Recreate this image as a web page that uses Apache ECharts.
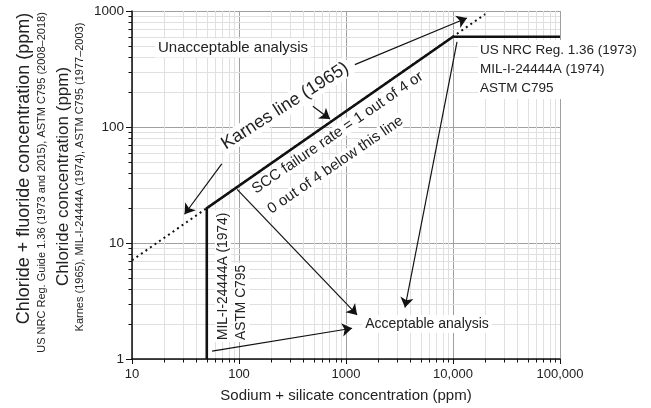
<!DOCTYPE html>
<html>
<head>
<meta charset="utf-8">
<script src="https://cdn.jsdelivr.net/npm/echarts@6/dist/echarts.min.js"></script>
<style>
  html, body { margin: 0; padding: 0; background: #fff; }
  #chart { width: 651px; height: 408px; }
</style>
</head>
<body>
<div id="chart"></div>
<script>
// Decade ticks of the log–log axes (ppm)
const xTickValues = [10, 100, 1000, 10000, 100000];
const xTickLabels = ['10', '100', '1000', '10,000', '100,000'];
const yTickValues = [1, 10, 100, 1000];
const yTickLabels = ['1', '10', '100', '1000'];

// Minor (2..9 per decade) grid positions
const xMinorTicks = [
  20, 30, 40, 50, 60, 70, 80, 90,
  200, 300, 400, 500, 600, 700, 800, 900,
  2000, 3000, 4000, 5000, 6000, 7000, 8000, 9000,
  20000, 30000, 40000, 50000, 60000, 70000, 80000, 90000
];
const yMinorTicks = [
  2, 3, 4, 5, 6, 7, 8, 9,
  20, 30, 40, 50, 60, 70, 80, 90,
  200, 300, 400, 500, 600, 700, 800, 900
];

// Karnes line (1965): [sodium + silicate, chloride] in ppm
const karnesLine = [[10, 7.1], [20000, 940]];
// Specification limit (MIL-I-24444A, ASTM C795, US NRC Reg. Guide 1.36)
const specLimit = [[50, 1], [50, 20], [10000, 600], [100000, 600]];

// Callout arrows, each [from, to] in data units
const callouts = [
  [[69, 48], [31, 17.7]],
  [[1210, 345], [13500, 870]],
  [[490, 151], [708, 117]],
  [[96, 29], [1270, 2.4]],
  [[56, 1.17], [1140, 1.84]],
  [[10900, 543], [3560, 2.78]]
];

// Texts
const xTitle = 'Sodium + silicate concentration (ppm)';
const yTitles = [
  'Chloride + fluoride concentration (ppm)',
  'US NRC Reg. Guide 1.36 (1973 and 2015), ASTM C795 (2008\u20132018)',
  'Chloride concentration (ppm)',
  'Karnes (1965), MIL-I-24444A (1974), ASTM C795 (1977\u20132003)'
];
const regionLabels = ['Unacceptable analysis', 'Acceptable analysis'];
const karnesLabel = 'Karnes line (1965)';
const sccLabel = ['SCC failure rate = 1 out of 4 or', '0 out of 4 below this line'];
const limitLabel = ['US NRC Reg. 1.36 (1973)', 'MIL-I-24444A (1974)', 'ASTM C795'];
const verticalLabels = ['MIL-I-24444A (1974)', 'ASTM C795'];

const FONT = '"Liberation Sans", Arial, Helvetica, sans-serif';
const INK = '#222';
const deg = d => d * Math.PI / 180;

function tickLabel(values, labels) {
  return function (v) {
    for (let i = 0; i < values.length; i++) {
      if (Math.abs(v - values[i]) / values[i] < 1e-6) return labels[i];
    }
    return '';
  };
}

function crisp(v) { return Math.round(v) + 0.5; }

// Vertical minor grid lines plus small ticks under the x axis
function renderMinorX(params, api) {
  const cs = params.coordSys;
  const px = crisp(api.coord([api.value(0), api.value(1)])[0]);
  const bottom = cs.y + cs.height;
  return {
    type: 'group',
    children: [
      { type: 'line', shape: { x1: px, y1: cs.y, x2: px, y2: bottom },
        style: { stroke: '#e0e0e0', lineWidth: 1 } },
      { type: 'line', shape: { x1: px, y1: bottom, x2: px, y2: bottom + 3.5 },
        style: { stroke: '#111', lineWidth: 1 } }
    ]
  };
}

// Horizontal minor grid lines plus small ticks left of the y axis
function renderMinorY(params, api) {
  const cs = params.coordSys;
  const py = crisp(api.coord([api.value(0), api.value(1)])[1]);
  return {
    type: 'group',
    children: [
      { type: 'line', shape: { x1: cs.x, y1: py, x2: cs.x + cs.width, y2: py },
        style: { stroke: '#e0e0e0', lineWidth: 1 } },
      { type: 'line', shape: { x1: cs.x - 3.5, y1: py, x2: cs.x, y2: py },
        style: { stroke: '#111', lineWidth: 1 } }
    ]
  };
}

function note(text, x, y, opts) {
  opts = opts || {};
  return {
    type: 'text',
    x: x, y: y,
    rotation: opts.rotation || 0,
    z: 1,
    silent: true,
    style: {
      text: text,
      fill: INK,
      font: (opts.size || 14) + 'px ' + FONT,
      align: opts.align || 'center',
      verticalAlign: 'middle',
      lineHeight: opts.lineHeight,
      backgroundColor: opts.bg === false ? 'transparent' : '#fff',
      padding: opts.padding || [1, 2]
    }
  };
}

const chart = echarts.init(document.getElementById('chart'), null, { renderer: 'canvas' });

chart.setOption({
  animation: false,
  backgroundColor: '#fff',
  grid: { left: 132, right: 91, top: 11, bottom: 46 },
  xAxis: {
    type: 'log',
    logBase: 10,
    min: 10,
    max: 100000,
    name: xTitle,
    nameLocation: 'middle',
    nameGap: 29,
    nameTextStyle: { fontFamily: FONT, fontSize: 15, color: INK },
    axisLine: { show: true, lineStyle: { color: '#111', width: 1.5 } },
    axisTick: { show: true, inside: false, length: 5, lineStyle: { color: '#111', width: 1 } },
    axisLabel: {
      margin: 9, fontFamily: FONT, fontSize: 13, color: INK,
      formatter: tickLabel(xTickValues, xTickLabels)
    },
    splitLine: { show: true, lineStyle: { color: '#a0a0a0', width: 1 } }
  },
  yAxis: {
    type: 'log',
    logBase: 10,
    min: 1,
    max: 1000,
    axisLine: { show: true, lineStyle: { color: '#111', width: 1.5 } },
    axisTick: { show: true, inside: false, length: 6, lineStyle: { color: '#111', width: 1 } },
    axisLabel: {
      margin: 8, fontFamily: FONT, fontSize: 13.5, color: INK,
      formatter: tickLabel(yTickValues, yTickLabels)
    },
    splitLine: { show: true, lineStyle: { color: '#a0a0a0', width: 1 } }
  },
  graphic: [
    // Stacked y-axis titles
    note(yTitles[0], 24, 168.5, { size: 18, rotation: Math.PI / 2, bg: false }),
    note(yTitles[1], 42, 182.5, { size: 11, rotation: Math.PI / 2, bg: false }),
    note(yTitles[2], 63, 176.5, { size: 17, rotation: Math.PI / 2, bg: false }),
    note(yTitles[3], 80, 177, { size: 11, rotation: Math.PI / 2, bg: false }),
    // In-plot annotations
    note(regionLabels[0], 233, 48, { size: 15, padding: [2, 3] }),
    note(regionLabels[1], 427, 324, { size: 14, padding: [2, 3] }),
    note(karnesLabel, 285, 106, { size: 18, rotation: deg(32.5), padding: [1, 3] }),
    note(sccLabel[0], 252, 191.6, { size: 15, rotation: deg(34.5), align: 'left', padding: [0, 2] }),
    note(sccLabel[1], 267.6, 211.6, { size: 15, rotation: deg(34.5), align: 'left', padding: [0, 2] }),
    note(limitLabel.join('\n'), 478, 69.5, { size: 13.5, align: 'left', lineHeight: 19, padding: [1, 2] }),
    note(verticalLabels[0], 223, 342, { size: 13.8, rotation: Math.PI / 2, align: 'left', padding: [1, 2] }),
    note(verticalLabels[1], 241.5, 342, { size: 13.8, rotation: Math.PI / 2, align: 'left', padding: [1, 2] })
  ],
  series: [
    {
      type: 'custom',
      name: 'minor-x',
      coordinateSystem: 'cartesian2d',
      renderItem: renderMinorX,
      data: xMinorTicks.map(v => [v, 1]),
      silent: true,
      z: 0
    },
    {
      type: 'custom',
      name: 'minor-y',
      coordinateSystem: 'cartesian2d',
      renderItem: renderMinorY,
      data: yMinorTicks.map(v => [10, v]),
      silent: true,
      z: 0
    },
    {
      type: 'line',
      name: 'Karnes line (1965)',
      data: karnesLine,
      symbol: 'none',
      lineStyle: { color: '#111', width: 2, type: [2, 3.5] },
      silent: true,
      z: 4
    },
    {
      type: 'line',
      name: 'Specification limit',
      data: specLimit,
      symbol: 'none',
      lineStyle: { color: '#111', width: 2.6, join: 'miter' },
      silent: true,
      z: 5
    },
    {
      type: 'lines',
      name: 'callouts',
      coordinateSystem: 'cartesian2d',
      data: callouts.map(c => ({ coords: c })),
      symbol: ['none', 'arrow'],
      symbolSize: [5, 10],
      lineStyle: { color: '#111', width: 1.2, opacity: 1, curveness: 0 },
      silent: true,
      z: 6
    }
  ]
});
</script>
</body>
</html>
